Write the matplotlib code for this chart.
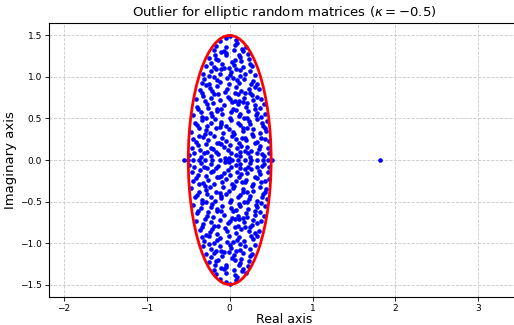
import matplotlib
matplotlib.use("Agg")
import matplotlib.pyplot as plt
from matplotlib.patches import Ellipse
import numpy as np

# Eigenvalues (upper half-plane; the matrix is real,
# so the lower half holds the complex conjugates).
upper_re = [
    -0.49,-0.43,-0.35,-0.31,-0.22,-0.17,-0.14,-0.06,0.02,0.07,0.12,0.13,0.22,0.24,0.33,0.39,0.41,0.48,-0.27,-0.01,
    -0.45,-0.38,-0.36,-0.28,-0.23,-0.20,-0.11,-0.07,-0.02,0.00,0.09,0.14,0.19,0.21,0.30,0.35,0.37,0.46,-0.15,0.26,
    -0.44,-0.41,-0.32,-0.26,-0.19,-0.13,-0.09,-0.04,0.03,0.07,0.11,0.18,0.20,0.28,0.33,0.38,0.43,0.47,-0.37,0.15,
    -0.47,-0.37,-0.30,-0.29,-0.24,-0.17,-0.08,-0.01,0.04,0.05,0.16,0.16,0.27,0.28,0.36,0.42,0.44,-0.12,0.21,
    -0.42,-0.40,-0.34,-0.23,-0.18,-0.11,-0.10,-0.05,0.02,0.10,0.12,0.23,0.24,0.33,0.39,0.40,0.45,-0.27,0.17,
    -0.44,-0.35,-0.33,-0.23,-0.21,-0.15,-0.09,0.00,0.01,0.11,0.13,0.21,0.22,0.32,0.33,0.38,0.43,-0.28,0.07,
    -0.40,-0.38,-0.27,-0.26,-0.20,-0.10,-0.07,0.03,0.04,0.10,0.20,0.21,0.30,0.31,0.37,0.41,-0.15,0.16,
    -0.41,-0.32,-0.30,-0.23,-0.14,-0.12,-0.02,0.00,0.10,0.11,0.17,0.27,0.28,0.33,0.38,-0.19,0.06,
    -0.36,-0.33,-0.24,-0.21,-0.15,-0.06,-0.03,0.06,0.08,0.14,0.23,0.25,0.30,0.35,-0.28,0.18,
    -0.34,-0.31,-0.25,-0.15,-0.12,-0.03,-0.01,0.09,0.11,0.17,0.26,0.28,0.33,-0.19,0.04,
    -0.32,-0.25,-0.23,-0.12,-0.10,0.00,0.02,0.12,0.13,0.19,0.25,0.30,-0.17,0.07,
    -0.29,-0.22,-0.19,-0.09,-0.07,0.03,0.05,0.14,0.16,0.24,0.27,-0.14,-0.01,
    -0.25,-0.18,-0.16,-0.05,-0.04,0.06,0.11,0.13,0.22,0.23,-0.11,
    -0.19,-0.17,-0.07,-0.05,0.05,0.06,0.15,0.16,0.20,
    -0.12,-0.05,0.00,0.07,0.09,
]
upper_im = [
    0.06,0.09,0.04,0.08,0.05,0.10,0.07,0.03,0.09,0.06,0.10,0.05,0.08,0.04,0.09,0.07,0.05,0.08,0.10,0.03,
    0.14,0.18,0.12,0.19,0.15,0.13,0.19,0.16,0.12,0.18,0.14,0.17,0.11,0.16,0.20,0.13,0.17,0.15,0.20,0.11,
    0.25,0.22,0.28,0.24,0.29,0.21,0.26,0.23,0.29,0.25,0.21,0.27,0.24,0.29,0.22,0.27,0.25,0.23,0.29,0.26,
    0.34,0.38,0.31,0.36,0.33,0.39,0.32,0.37,0.34,0.31,0.38,0.35,0.31,0.37,0.33,0.39,0.35,0.40,0.39,
    0.45,0.42,0.48,0.44,0.49,0.43,0.46,0.41,0.48,0.44,0.42,0.47,0.43,0.49,0.45,0.41,0.47,0.41,0.50,
    0.54,0.58,0.52,0.57,0.53,0.59,0.55,0.51,0.58,0.53,0.56,0.51,0.59,0.54,0.57,0.52,0.56,0.51,0.60,
    0.64,0.61,0.67,0.63,0.69,0.62,0.66,0.70,0.62,0.67,0.64,0.69,0.61,0.66,0.63,0.68,0.61,0.70,
    0.73,0.77,0.71,0.75,0.79,0.72,0.76,0.74,0.79,0.71,0.75,0.78,0.72,0.76,0.74,0.80,0.71,
    0.84,0.81,0.87,0.83,0.89,0.82,0.86,0.81,0.88,0.83,0.86,0.81,0.88,0.85,0.90,0.81,
    0.93,0.97,0.92,0.96,0.94,0.99,0.91,0.96,0.93,0.98,0.92,0.95,0.91,1.00,0.99,
    1.04,1.01,1.07,1.03,1.09,1.02,1.06,1.01,1.08,1.04,1.07,1.02,1.10,1.10,
    1.13,1.17,1.12,1.16,1.11,1.18,1.14,1.19,1.12,1.16,1.13,1.20,1.11,
    1.23,1.27,1.22,1.26,1.29,1.21,1.27,1.24,1.28,1.22,1.30,
    1.33,1.37,1.31,1.36,1.32,1.38,1.34,1.31,1.36,
    1.43,1.47,1.49,1.44,1.41,
]
real_eigs = [-0.55,-0.50,-0.44,-0.37,-0.30,-0.21,-0.12,-0.05,0.03,0.10,0.18,0.26,0.33,0.40,0.46,0.51]
outlier = [1.81, 0.0]

kappa = -0.5
semi_re = 1 + kappa   # 0.5
semi_im = 1 - kappa   # 1.5

re = np.concatenate([upper_re, upper_re, real_eigs])
im = np.concatenate([upper_im, -np.array(upper_im), np.zeros(len(real_eigs))])

fig = plt.figure(figsize=(5.14, 3.25), dpi=100)
ax = fig.add_axes([49/514, 28/325, 470/514, 274/325])

ax.grid(True, color="#c8c8c8", linestyle="--", linewidth=0.6)
ax.set_axisbelow(True)

ax.scatter(re, im, s=11, color="blue", zorder=3, linewidths=0)
ax.scatter([outlier[0]], [outlier[1]], s=11, color="blue", zorder=3, linewidths=0)
ax.add_patch(Ellipse((0, 0), 2 * semi_re, 2 * semi_im, fill=False,
                     edgecolor="red", linewidth=2, zorder=4))

ax.set_xlim(-2.18, 3.49)
ax.set_ylim(-1.65, 1.65)
ax.set_xticks([-2, -1, 0, 1, 2, 3])
ax.set_yticks([-1.5, -1.0, -0.5, 0.0, 0.5, 1.0, 1.5])
ax.tick_params(labelsize=6.5, length=3, width=0.6, pad=2)
for s in ax.spines.values():
    s.set_linewidth(0.8)
ax.spines["right"].set_visible(False)

ax.set_title(r"Outlier for elliptic random matrices ($\kappa = -0.5$)", fontsize=9.5, pad=5)
ax.set_xlabel("Real axis", fontsize=9, labelpad=0)
ax.set_ylabel("Imaginary axis", fontsize=9.5, labelpad=2)

fig.savefig("out.png", dpi=100)
